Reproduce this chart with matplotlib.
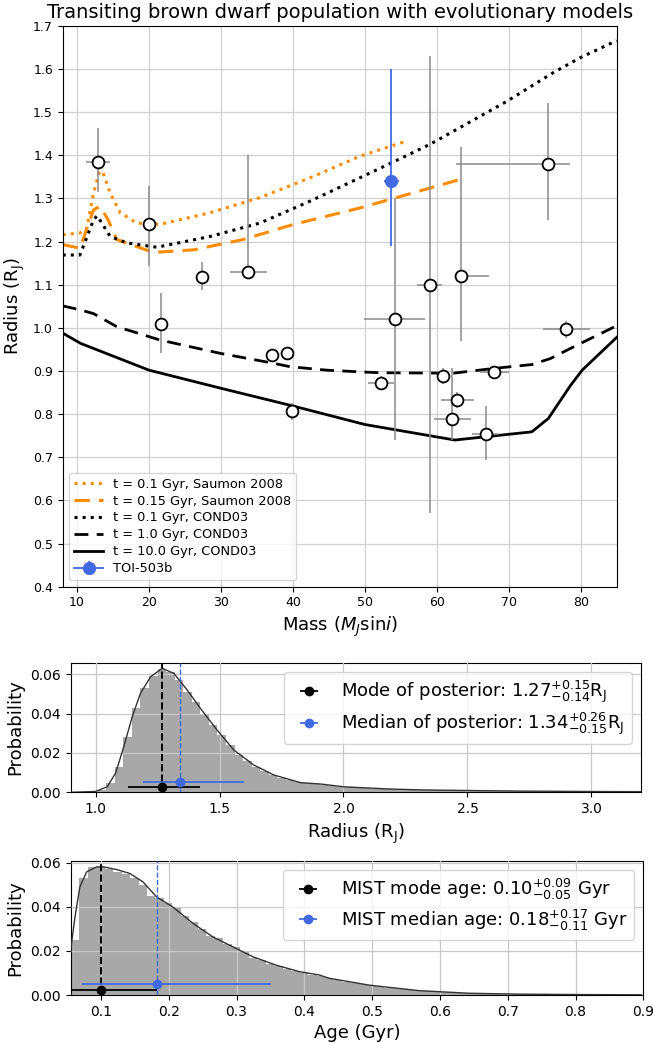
import numpy as np
import matplotlib
matplotlib.use("Agg")
import matplotlib.pyplot as plt

# ---------------- data: top panel ----------------
bd_mass = [12.95, 20.05, 21.6, 27.4, 33.7, 37.1, 39.2, 39.85, 52.2, 54.2, 59.0,
           60.9, 62.1, 62.8, 63.3, 66.9, 68.0, 75.5, 78.0]
bd_radius = [1.384, 1.24, 1.009, 1.117, 1.13, 0.937, 0.941, 0.807, 0.873, 1.02, 1.10,
             0.888, 0.788, 0.833, 1.12, 0.755, 0.898, 1.381, 0.997]
bd_mass_lo = [1.65, 0.2, 0.2, 0.2, 2.5, 0.2, 0.2, 0.2, 1.7, 4.3, 1.7,
              0.5, 2.5, 2.2, 0.7, 2.0, 2.0, 12.9, 3.3]
bd_mass_hi = [1.65, 0.2, 0.2, 0.2, 2.7, 0.2, 0.2, 0.2, 1.8, 4.2, 1.7,
              0.5, 2.6, 2.3, 4.0, 1.7, 2.0, 3.0, 3.3]
bd_rad_lo = [0.07, 0.097, 0.068, 0.03, 0.01, 0.015, 0.015, 0.02, 0.015, 0.28, 0.53,
             0.018, 0.048, 0.019, 0.15, 0.062, 0.01, 0.13, 0.02]
bd_rad_hi = [0.079, 0.09, 0.072, 0.035, 0.27, 0.015, 0.015, 0.02, 0.015, 0.28, 0.53,
             0.018, 0.118, 0.019, 0.30, 0.064, 0.01, 0.14, 0.02]

toi_mass, toi_mass_err = 53.7, 1.0
toi_radius, toi_rad_lo, toi_rad_hi = 1.34, 0.15, 0.26

saumon01_m = [8, 10.4, 11.3, 12.3, 13.3, 14.6, 16.0, 18.3, 21.5, 28.5, 35.4, 42.4, 49.3, 55.4]
saumon01_r = [1.216, 1.22, 1.228, 1.313, 1.375, 1.313, 1.267, 1.243, 1.24, 1.267, 1.302, 1.348, 1.398, 1.431]
saumon015_m = [8, 10.4, 12.3, 13.2, 14.3, 15.5, 20.6, 26.2, 33.1, 40.1, 49.3, 63.0]
saumon015_r = [1.193, 1.185, 1.274, 1.282, 1.251, 1.205, 1.175, 1.181, 1.205, 1.24, 1.278, 1.343]
cond01_m = [8, 10.4, 12.3, 12.8, 14.6, 16.9, 21.1, 28.5, 35.4, 42.4, 49.3, 53.5, 59.1, 69.8, 76.2, 80.0, 85.0]
cond01_r = [1.169, 1.169, 1.251, 1.26, 1.212, 1.197, 1.187, 1.212, 1.243, 1.294, 1.348, 1.381, 1.426, 1.526, 1.592, 1.627, 1.666]
cond1_m = [8, 10.4, 12.3, 15.5, 21.5, 29.9, 37.3, 39.6, 44.7, 49.4, 52.1, 62.3, 67.9, 73.2, 75.8, 79.0, 85.0]
cond1_r = [1.051, 1.042, 1.033, 1.003, 0.972, 0.941, 0.918, 0.91, 0.902, 0.898, 0.896, 0.895, 0.906, 0.915, 0.929, 0.956, 1.005]
cond10_m = [8, 10.5, 20.0, 30.0, 40.0, 50.0, 62.5, 73.2, 75.5, 78.6, 80.2, 85.0]
cond10_r = [0.988, 0.964, 0.902, 0.86, 0.819, 0.776, 0.74, 0.759, 0.79, 0.867, 0.902, 0.978]

# ---------------- data: middle panel (radius posterior) ----------------
rad_bin_start, rad_bin_width = 0.905, 0.0345
rad_hist = [0.0, 0.0, 0.0003, 0.0012, 0.0045, 0.013, 0.028, 0.043, 0.053, 0.059,
            0.063, 0.061, 0.057, 0.051, 0.046, 0.040, 0.034, 0.029, 0.024, 0.019,
            0.016, 0.013, 0.011, 0.009, 0.0075, 0.006, 0.005, 0.0045, 0.004, 0.0035,
            0.003, 0.0028, 0.0025, 0.0022, 0.002, 0.0018, 0.0016, 0.0015, 0.0014, 0.0013,
            0.0012, 0.0011, 0.001, 0.001, 0.0009, 0.0009, 0.0008, 0.0008, 0.0007, 0.0007,
            0.0006, 0.0006, 0.0006, 0.0005, 0.0005, 0.0005, 0.0004, 0.0004, 0.0004, 0.0004,
            0.0004, 0.0003, 0.0003, 0.0003, 0.0003, 0.0003, 0.0003]
rad_kde_x = [0.902, 1.0, 1.047, 1.081, 1.114, 1.148, 1.181, 1.222, 1.269, 1.316, 1.37,
             1.423, 1.49, 1.558, 1.638, 1.719, 1.827, 1.907, 2.0, 2.176, 2.31, 2.499,
             2.714, 2.98, 3.2]
rad_kde_y = [0.0, 0.0004, 0.0028, 0.0097, 0.0232, 0.0384, 0.0503, 0.0588, 0.0631, 0.0605,
             0.052, 0.0427, 0.0317, 0.0215, 0.0139, 0.0088, 0.0049, 0.0042, 0.0028, 0.0017,
             0.0012, 0.0009, 0.0006, 0.0004, 0.0003]
rad_mode, rad_mode_lo, rad_mode_hi = 1.27, 0.14, 0.15
rad_med, rad_med_lo, rad_med_hi = 1.34, 0.15, 0.26

# ---------------- data: bottom panel (age posterior) ----------------
age_bin_start, age_bin_width = 0.0555, 0.0125
age_hist = [0.025, 0.053, 0.058, 0.058, 0.057, 0.056, 0.055, 0.053, 0.050, 0.045,
            0.044, 0.042, 0.040, 0.036, 0.033, 0.030, 0.027, 0.026, 0.023, 0.022,
            0.020, 0.017, 0.016, 0.014, 0.013, 0.012, 0.011, 0.010, 0.0092, 0.0085,
            0.0076, 0.0068, 0.006, 0.0055, 0.0049, 0.0044, 0.0039, 0.0034, 0.003, 0.0026,
            0.0022, 0.0019, 0.0016, 0.0014, 0.0012, 0.001, 0.0009, 0.0008, 0.0007, 0.0006,
            0.0005, 0.0004, 0.0004, 0.0004, 0.0003, 0.0003, 0.0003, 0.0003, 0.0002, 0.0002,
            0.0002, 0.0002, 0.0002, 0.0001, 0.0001, 0.0001, 0.0001]
age_kde_x = [0.0554, 0.0618, 0.069, 0.079, 0.0937, 0.1034, 0.123, 0.1426, 0.162, 0.182,
             0.206, 0.236, 0.265, 0.2946, 0.324, 0.358, 0.393, 0.422, 0.437, 0.4956,
             0.569, 0.643, 0.716, 0.814, 0.897]
age_kde_y = [0.0204, 0.0355, 0.0491, 0.0559, 0.0582, 0.0582, 0.057, 0.0552, 0.0514, 0.0446,
             0.040, 0.0325, 0.0264, 0.0219, 0.0174, 0.0136, 0.0106, 0.0091, 0.0076, 0.0045,
             0.002, 0.0008, 0.0004, 0.0002, 0.0001]
age_mode, age_mode_lo, age_mode_hi = 0.10, 0.05, 0.083
age_med, age_med_lo, age_med_hi = 0.183, 0.111, 0.168

# ---------------- figure ----------------
plt.rcParams['font.family'] = ['DejaVu Sans']
fig = plt.figure(figsize=(6.53, 10.43), dpi=100)

ax1 = fig.add_axes([0.096, 0.4375, 0.8484, 0.5376])
ax2 = fig.add_axes([0.1083, 0.2404, 0.8734, 0.1243])
ax3 = fig.add_axes([0.1083, 0.046, 0.8769, 0.1288])

orange = '#ff8c00'
blue = '#4169e1'

# top panel
ax1.grid(True, color='#d0d0d0', lw=0.9)
ax1.set_axisbelow(True)
ax1.plot(saumon01_m, saumon01_r, ls=':', color=orange, lw=2.2, label='t = 0.1 Gyr, Saumon 2008')
ax1.plot(saumon015_m, saumon015_r, ls=(0, (5, 3)), color=orange, lw=2.2, label='t = 0.15 Gyr, Saumon 2008')
ax1.plot(cond01_m, cond01_r, ls=':', color='black', lw=2.2, label='t = 0.1 Gyr, COND03')
ax1.plot(cond1_m, cond1_r, ls=(0, (5, 3)), color='black', lw=2.0, label='t = 1.0 Gyr, COND03')
ax1.plot(cond10_m, cond10_r, ls='-', color='black', lw=2.0, label='t = 10.0 Gyr, COND03')
ax1.errorbar(bd_mass, bd_radius, xerr=[bd_mass_lo, bd_mass_hi], yerr=[bd_rad_lo, bd_rad_hi],
             fmt='o', mfc='white', mec='black', mew=1.3, ms=8.5, ecolor='#8a8a8a',
             elinewidth=1.1, capsize=0, zorder=5)
ax1.errorbar([toi_mass], [toi_radius], xerr=[[toi_mass_err], [toi_mass_err]],
             yerr=[[toi_rad_lo], [toi_rad_hi]], fmt='o-', color=blue, ms=8.5, lw=1.3,
             elinewidth=1.3, capsize=0, label='TOI-503b', zorder=6)
ax1.set_xlim(8, 85)
ax1.set_ylim(0.4, 1.7)
ax1.set_xticks([10, 20, 30, 40, 50, 60, 70, 80])
ax1.set_yticks(np.round(np.arange(0.4, 1.71, 0.1), 1))
ax1.tick_params(labelsize=9)
ax1.set_xlabel(r'Mass ($M_J$sin$i$)', fontsize=13)
ax1.set_ylabel(r'Radius (R$_\mathrm{J}$)', fontsize=13)
ax1.set_title('Transiting brown dwarf population with evolutionary models', fontsize=14)
ax1.legend(loc='lower left', fontsize=9.3, framealpha=0.8, handlelength=2.2,
           labelspacing=0.3)

# middle panel
rad_edges = rad_bin_start + rad_bin_width * np.arange(len(rad_hist) + 1)
rad_centers = 0.5 * (rad_edges[:-1] + rad_edges[1:])
ax2.hist(rad_centers, bins=rad_edges, weights=rad_hist, color='#a8a8a8', zorder=1)
ax2.plot(rad_kde_x, rad_kde_y, color='#333333', lw=1.0, zorder=3)
ax2.axvline(rad_mode, color='black', ls='--', lw=1.4, zorder=3)
ax2.axvline(rad_med, color=blue, ls='--', lw=1.0, zorder=3)
ax2.errorbar([rad_mode], [0.0025], xerr=[[rad_mode_lo], [rad_mode_hi]], fmt='o', color='black',
             ms=6, elinewidth=1.3, capsize=0, zorder=4,
             label=r'Mode of posterior: $1.27^{+0.15}_{-0.14}$R$_\mathrm{J}$')
ax2.errorbar([rad_med], [0.005], xerr=[[rad_med_lo], [rad_med_hi]], fmt='o', color=blue,
             ms=6, elinewidth=1.3, capsize=0, zorder=4,
             label=r'Median of posterior: $1.34^{+0.26}_{-0.15}$R$_\mathrm{J}$')
ax2.grid(True, color='#c8c8c8', lw=0.9, zorder=2)
ax2.set_axisbelow(False)
ax2.set_xlim(0.9, 3.2)
ax2.set_ylim(0, 0.066)
ax2.set_yticks([0.0, 0.02, 0.04, 0.06])
ax2.set_xticks([1.0, 1.5, 2.0, 2.5, 3.0])
ax2.tick_params(labelsize=10)
ax2.set_xlabel(r'Radius (R$_\mathrm{J}$)', fontsize=13)
ax2.set_ylabel('Probability', fontsize=13)
ax2.legend(loc='upper right', fontsize=13, framealpha=0.8, labelspacing=0.3)

# bottom panel
age_edges = age_bin_start + age_bin_width * np.arange(len(age_hist) + 1)
age_centers = 0.5 * (age_edges[:-1] + age_edges[1:])
ax3.hist(age_centers, bins=age_edges, weights=age_hist, color='#a8a8a8', zorder=1)
ax3.plot(age_kde_x, age_kde_y, color='#333333', lw=1.0, zorder=3)
ax3.axvline(age_mode, color='black', ls='--', lw=1.4, zorder=3)
ax3.axvline(age_med, color=blue, ls='--', lw=1.0, zorder=3)
ax3.errorbar([age_mode], [0.0025], xerr=[[age_mode_lo], [age_mode_hi]], fmt='o', color='black',
             ms=6, elinewidth=1.3, capsize=0, zorder=4,
             label=r'MIST mode age: $0.10^{+0.09}_{-0.05}$ Gyr')
ax3.errorbar([age_med], [0.005], xerr=[[age_med_lo], [age_med_hi]], fmt='o', color=blue,
             ms=6, elinewidth=1.3, capsize=0, zorder=4,
             label=r'MIST median age: $0.18^{+0.17}_{-0.11}$ Gyr')
ax3.grid(True, color='#c8c8c8', lw=0.9, zorder=2)
ax3.set_axisbelow(False)
ax3.set_xlim(0.0555, 0.9)
ax3.set_ylim(0, 0.061)
ax3.set_yticks([0.0, 0.02, 0.04, 0.06])
ax3.set_xticks([0.1, 0.2, 0.3, 0.4, 0.5, 0.6, 0.7, 0.8, 0.9])
ax3.tick_params(labelsize=10)
ax3.set_xlabel('Age (Gyr)', fontsize=13)
ax3.set_ylabel('Probability', fontsize=13)
ax3.legend(loc='upper right', fontsize=13, framealpha=0.8, labelspacing=0.3)

fig.savefig('out.png', dpi=100)
